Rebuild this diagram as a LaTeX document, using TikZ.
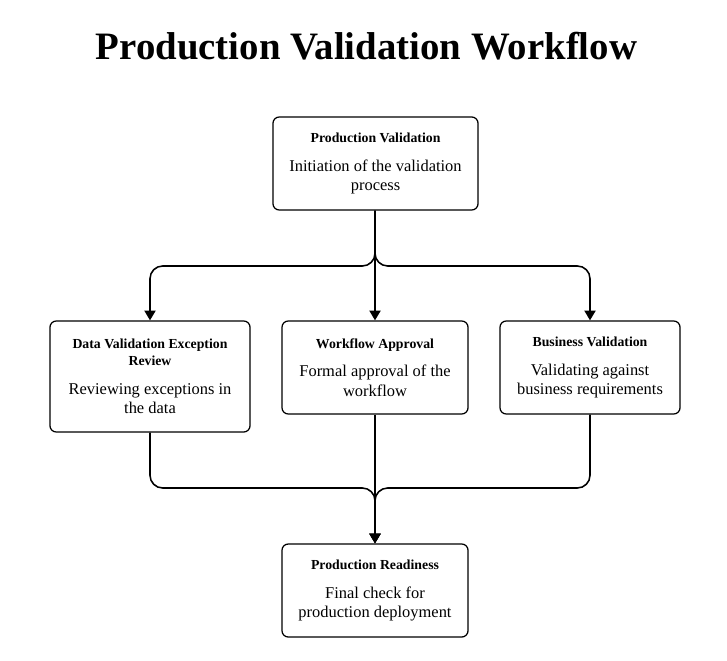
\documentclass[tikz,border=0pt]{standalone}
\usepackage{fontspec}
\setmainfont{Liberation Serif}
\usepackage{tikz}
\usetikzlibrary{arrows.meta}

\tikzset{
  stage/.style={draw=black, line width=0.9pt, rounded corners=4.5pt, fill=white,
    align=center, inner sep=0pt, minimum height=2.325cm},
  flowline/.style={line width=1.1pt, rounded corners=9pt, -{Triangle[width=8pt,length=7pt]}},
}
\newcommand{\hd}{\fontsize{9.8}{11.4}\selectfont\bfseries}
\newcommand{\bd}{\fontsize{11.7}{14.2}\selectfont\mdseries}

\begin{document}
\begin{tikzpicture}[x=0.025cm, y=-0.025cm]
            \useasboundingbox (0,0) rectangle (727,661);

            \node[font=\fontsize{27.6}{32}\selectfont\bfseries] (title) at (366.5,46) {Production Validation Workflow};

            \node[stage, minimum width=5.125cm] (start) at (375.5,163.5)
                {\hd Production Validation\\[8.5pt]\bd Initiation of the validation\\[2pt]\bd process};
            \node[stage, minimum width=5cm, minimum height=2.775cm] (review) at (150,376.5)
                {\hd Data Validation Exception\\\hd Review\\[8.5pt]\bd Reviewing exceptions in\\[2pt]\bd the data};
            \node[stage, minimum width=4.65cm] (approval) at (375,367.5)
                {\hd Workflow Approval\\[8.5pt]\bd Formal approval of the\\[2pt]\bd workflow};
            \node[stage, minimum width=4.5cm] (business) at (590,367.5)
                {\hd Business Validation\\[8.5pt]\bd Validating against\\[2pt]\bd business requirements};
            \node[stage, minimum width=4.65cm] (ready) at (375,590.5)
                {\hd Production Readiness\\[8.5pt]\bd Final check for\\[2pt]\bd production deployment};

            \coordinate (split) at (375,266);
            \coordinate (merge) at (375,488);

            % fan out
            \draw [flowline] (start.south -| split) -- (split) -| (review.north);
            \draw [flowline] (start.south -| split) -- (approval.north);
            \draw [flowline] (start.south -| split) -- (split) -| (business.north);

            % join
            \draw [flowline] (review.south) |- (merge) -- (ready.north);
            \draw [flowline] (approval.south) -- (ready.north);
            \draw [flowline] (business.south) |- (merge) -- (ready.north);
        \end{tikzpicture}
\end{document}
